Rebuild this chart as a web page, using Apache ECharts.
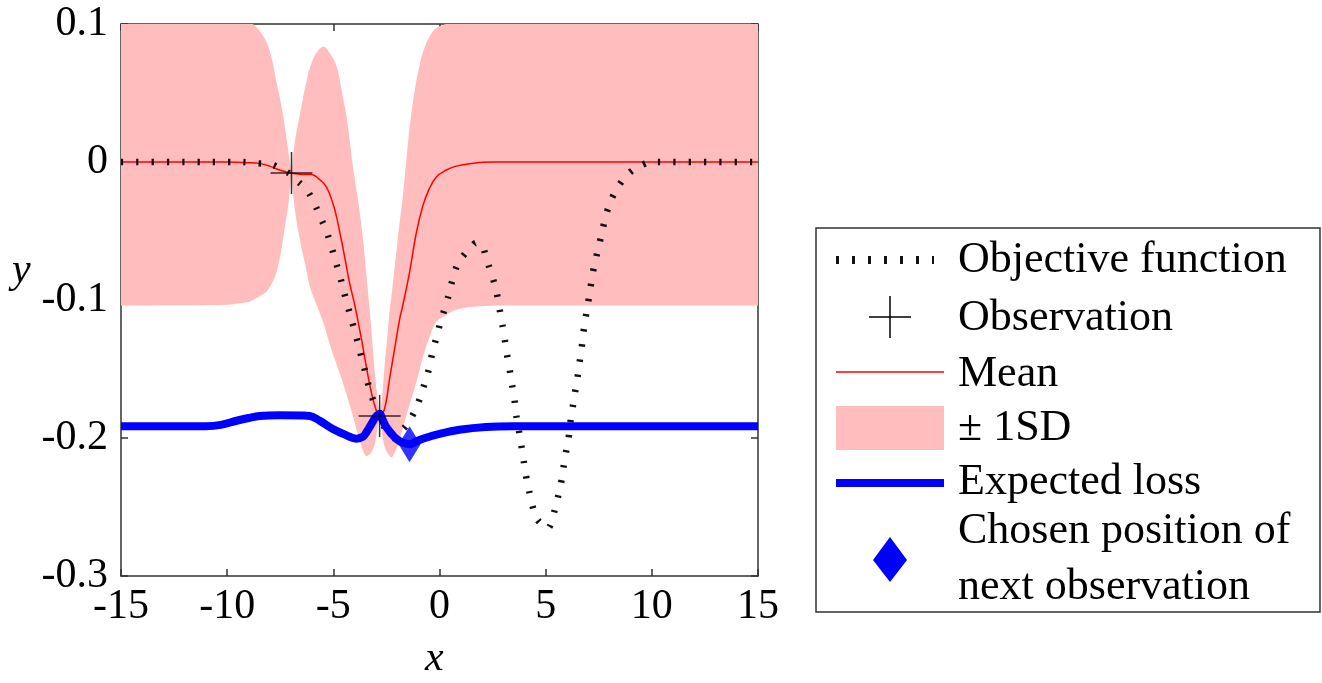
<!DOCTYPE html>
<html><head><meta charset="utf-8">
<script src="https://cdn.jsdelivr.net/npm/echarts@6/dist/echarts.min.js"></script>
<style>html,body{margin:0;padding:0;background:#fff}#c{width:1322px;height:683px}</style>
</head><body><div id="c"></div>
<script>
// ---------- data ----------
const xTickLabels = ['-15', '-10', '-5', '0', '5', '10', '15'];
const yTickLabels = ['-0.3', '-0.2', '-0.1', '0', '0.1'];

const objX = [-15, -12, -9.5, -9, -8.5, -8, -7.37, -7, -6.82, -6.27, -5.93, -5.61, -5.33, -5.1, -4.89, -4.7, -4.33, -3.95, -3.58, -3.25, -2.96, -2.82, -2.5, -2.2, -1.96, -1.57, -1.18, -0.94, -0.71, -0.5, -0.35, -0.16, 0.03, 0.23, 0.44, 0.62, 0.86, 1.22, 1.5, 1.75, 2.0, 2.19, 2.4, 2.62, 2.77, 2.9, 3.02, 3.16, 3.29, 3.4, 3.52, 3.6, 3.72, 3.84, 3.95, 4.07, 4.2, 4.36, 4.57, 4.85, 5.09, 5.25, 5.36, 5.56, 5.72, 5.83, 5.95, 6.08, 6.16, 6.27, 6.38, 6.5, 6.6, 6.7, 6.79, 6.9, 7.02, 7.13, 7.25, 7.41, 7.58, 7.74, 7.91, 8.19, 8.54, 9.01, 9.64, 10, 15];
const objY = [0, 0, 0, -0.0003, -0.001, -0.0015, -0.006, -0.009, -0.012, -0.020, -0.029, -0.040, -0.050, -0.061, -0.072, -0.082, -0.104, -0.125, -0.147, -0.167, -0.179, -0.184, -0.195, -0.200, -0.197, -0.191, -0.181, -0.172, -0.161, -0.150, -0.139, -0.128, -0.117, -0.107, -0.096, -0.085, -0.074, -0.066, -0.0615, -0.0585, -0.0605, -0.069, -0.079, -0.090, -0.101, -0.113, -0.123, -0.138, -0.149, -0.160, -0.171, -0.182, -0.193, -0.204, -0.215, -0.227, -0.237, -0.248, -0.258, -0.263, -0.2655, -0.262, -0.256, -0.244, -0.233, -0.222, -0.211, -0.200, -0.189, -0.178, -0.167, -0.156, -0.145, -0.134, -0.122, -0.111, -0.100, -0.089, -0.078, -0.067, -0.056, -0.045, -0.035, -0.024, -0.015, -0.007, -0.0015, 0, 0];

const obsX = [-6.97, -2.82];
const obsY = [-0.008, -0.184];

const meanX = [-15, -10, -9, -8.5, -8, -7.5, -7, -6.5, -6.03, -5.7, -5.33, -5.02, -4.86, -4.55, -4.23, -4.0, -3.68, -3.45, -3.21, -3.0, -2.82, -2.59, -2.35, -2.12, -1.88, -1.73, -1.41, -1.1, -0.79, -0.5, -0.16, 0.3, 0.78, 1.5, 2.5, 15];
const meanY = [0, 0, -0.0005, -0.001, -0.003, -0.006, -0.008, -0.009, -0.009, -0.012, -0.018, -0.030, -0.039, -0.062, -0.088, -0.103, -0.128, -0.148, -0.167, -0.179, -0.184, -0.179, -0.157, -0.136, -0.114, -0.104, -0.080, -0.052, -0.032, -0.020, -0.011, -0.006, -0.003, -0.001, 0, 0];

const bandX = [-15, -10, -9.5, -9, -8.8, -8.5, -8.15, -7.9, -7.68, -7.5, -7.37, -7.25, -7.13, -7.05, -6.97, -6.9, -6.8, -6.58, -6.3, -6.11, -5.8, -5.46, -5.09, -4.86, -4.55, -4.39, -4.08, -3.76, -3.61, -3.45, -3.29, -3.06, -2.95, -2.82, -2.7, -2.59, -2.45, -2.35, -2.27, -2.04, -1.88, -1.73, -1.57, -1.41, -1.1, -0.79, -0.5, -0.16, 0.3, 0.8, 1.5, 3, 15];
const bandLow = [-0.104, -0.1035, -0.1025, -0.1015, -0.1, -0.0975, -0.094, -0.088, -0.080, -0.068, -0.056, -0.044, -0.032, -0.020, -0.008, -0.022, -0.036, -0.056, -0.076, -0.090, -0.103, -0.117, -0.136, -0.146, -0.160, -0.168, -0.184, -0.202, -0.209, -0.213, -0.212, -0.205, -0.196, -0.184, -0.197, -0.206, -0.211, -0.213, -0.214, -0.208, -0.201, -0.193, -0.184, -0.176, -0.160, -0.142, -0.128, -0.116, -0.111, -0.107, -0.105, -0.104, -0.104];
const bandHigh = [0.104, 0.1035, 0.1025, 0.1015, 0.1, 0.0955, 0.087, 0.075, 0.058, 0.045, 0.034, 0.022, 0.009, 0.0, -0.008, 0.004, 0.016, 0.034, 0.056, 0.068, 0.079, 0.0836, 0.077, 0.070, 0.047, 0.034, -0.003, -0.036, -0.055, -0.081, -0.107, -0.150, -0.168, -0.184, -0.170, -0.148, -0.125, -0.108, -0.098, -0.066, -0.044, -0.025, 0.0, 0.025, 0.058, 0.079, 0.090, 0.097, 0.100, 0.103, 0.104, 0.104, 0.104];

const lossX = [-15, -11, -10.3, -9.56, -9, -8.47, -7.53, -6.5, -6.11, -5.64, -5.02, -4.39, -3.92, -3.6, -3.45, -3.25, -3.06, -2.95, -2.82, -2.7, -2.51, -2.2, -2.04, -1.8, -1.41, -1.1, -0.79, 0, 0.94, 2.19, 3.5, 15];
const lossY = [-0.1915, -0.1915, -0.1905, -0.1875, -0.1855, -0.184, -0.1835, -0.1837, -0.184, -0.1875, -0.1935, -0.198, -0.2005, -0.199, -0.196, -0.191, -0.186, -0.1838, -0.1825, -0.186, -0.192, -0.198, -0.2005, -0.203, -0.2045, -0.2025, -0.2005, -0.197, -0.194, -0.192, -0.1915, -0.1915];

const nextX = [-1.41];
const nextY = [-0.2045];

const legendLabels = ['Objective function', 'Observation', 'Mean', '± 1SD', 'Expected loss', 'Chosen position of', 'next observation'];

// ---------- chart ----------
const pair = (xs, ys) => xs.map((x, i) => [x, ys[i]]);
const SERIF = '"Liberation Serif", "DejaVu Serif", serif';
const PINK = '#ffbdbd';
const chart = echarts.init(document.getElementById('c'), null, { renderer: 'canvas' });

const axisCommon = {
  type: 'value',
  axisLine: { show: true, onZero: false, lineStyle: { color: '#333', width: 1.5 } },
  axisTick: { show: true, inside: true, length: 7, lineStyle: { color: '#333', width: 1.5 } },
  splitLine: { show: false }
};

// Monotone cubic (PCHIP) through pixel points; pinch points keep one-sided slopes (sharp X crossing).
function hermiteEdge(pts, pinch) {
  const n = pts.length, h = [], d = [];
  for (let k = 0; k < n - 1; k++) {
    h[k] = pts[k + 1][0] - pts[k][0];
    d[k] = (pts[k + 1][1] - pts[k][1]) / h[k];
  }
  const mIn = [], mOut = [];
  for (let k = 0; k < n; k++) {
    if (k === 0) { mIn[k] = mOut[k] = d[0]; continue; }
    if (k === n - 1) { mIn[k] = mOut[k] = d[n - 2]; continue; }
    if (pinch[k]) { mIn[k] = d[k - 1]; mOut[k] = d[k]; continue; }
    let m = 0;
    if (d[k - 1] * d[k] > 0) {
      const w1 = 2 * h[k] + h[k - 1], w2 = h[k] + 2 * h[k - 1];
      m = (w1 + w2) / (w1 / d[k - 1] + w2 / d[k]);
    }
    mIn[k] = mOut[k] = m;
  }
  const out = [pts[0]];
  const STEPS = 12;
  for (let k = 0; k < n - 1; k++) {
    const x0 = pts[k][0], y0 = pts[k][1], y1 = pts[k + 1][1], hk = h[k];
    const m0 = mOut[k], m1 = mIn[k + 1];
    for (let s = 1; s <= STEPS; s++) {
      const t = s / STEPS, t2 = t * t, t3 = t2 * t;
      const y = (2 * t3 - 3 * t2 + 1) * y0 + (t3 - 2 * t2 + t) * hk * m0 + (-2 * t3 + 3 * t2) * y1 + (t3 - t2) * hk * m1;
      out.push([x0 + t * hk, y]);
    }
  }
  return out;
}

function renderBand(params, api) {
  if (params.dataIndex !== 0) return null;
  const pinch = bandX.map((x, i) => bandHigh[i] === bandLow[i]);
  const top = hermiteEdge(bandX.map((x, i) => api.coord([x, bandHigh[i]])), pinch);
  const bottom = hermiteEdge(bandX.map((x, i) => api.coord([x, bandLow[i]])), pinch).reverse();
  return {
    type: 'polygon',
    shape: { points: top.concat(bottom) },
    style: { fill: PINK, stroke: null }
  };
}

const option = {
  animation: false,
  backgroundColor: '#fff',
  grid: { left: 121, top: 24, width: 637, height: 552, containLabel: false },
  xAxis: [
    Object.assign({}, axisCommon, {
      position: 'bottom', min: -15, max: 15, interval: 5,
      axisLabel: { show: true, margin: 10, fontFamily: SERIF, fontSize: 42, color: '#000',
        formatter: v => xTickLabels[Math.round((v + 15) / 5)] }
    }),
    Object.assign({}, axisCommon, {
      position: 'top', min: -15, max: 15, interval: 5, axisLabel: { show: false }
    })
  ],
  yAxis: [
    Object.assign({}, axisCommon, {
      position: 'left', min: -0.3, max: 0.1, interval: 0.1,
      axisLabel: { show: true, margin: 13, fontFamily: SERIF, fontSize: 42, color: '#000',
        formatter: v => yTickLabels[Math.round((v + 0.3) / 0.1)] }
    }),
    Object.assign({}, axisCommon, {
      position: 'right', min: -0.3, max: 0.1, interval: 0.1, axisLabel: { show: false }
    })
  ],
  series: [
    {
      name: '± 1SD', type: 'custom', renderItem: renderBand, clip: true, silent: true, z: 1,
      data: bandX.map((x, i) => [x, bandLow[i], bandHigh[i]]),
      encode: { x: 0, y: [1, 2] }
    },
    {
      name: 'Mean', type: 'line', data: pair(meanX, meanY), symbol: 'none', smooth: 0.4,
      lineStyle: { color: '#ff0000', width: 1.5 }, z: 3
    },
    {
      name: 'Objective function', type: 'line', data: pair(objX, objY), symbol: 'none', smooth: 0.4,
      lineStyle: { color: '#111', width: 6.5, type: [2.3, 13], cap: 'butt' }, z: 4
    },
    {
      name: 'Expected loss', type: 'line', data: pair(lossX, lossY), symbol: 'none', smooth: 0.4,
      lineStyle: { color: '#0000ff', width: 8 }, z: 5
    },
    {
      name: 'Observation', type: 'scatter', data: pair(obsX, obsY),
      symbol: 'path://M-1,0L1,0M0,-1L0,1', symbolSize: 42,
      itemStyle: { color: 'rgba(0,0,0,0)', borderColor: '#000', borderWidth: 1.5 }, z: 6
    },
    {
      name: 'Chosen position of next observation', type: 'scatter', data: pair(nextX, nextY),
      symbol: 'diamond', symbolSize: [22, 36], itemStyle: { color: '#0000ff' }, z: 7
    }
  ],
  graphic: [
    { type: 'text', left: 12, top: 250, style: { text: 'y', font: 'italic 42px ' + SERIF, fill: '#000' } },
    { type: 'text', left: 425, top: 638, style: { text: 'x', font: 'italic 42px ' + SERIF, fill: '#000' } },
    { type: 'rect', shape: { x: 816, y: 228, width: 504, height: 384 }, style: { fill: 'none', stroke: '#333', lineWidth: 1.5 }, z: 100 },
    { type: 'line', shape: { x1: 836, y1: 260, x2: 934, y2: 260 }, style: { stroke: '#111', lineWidth: 8, lineDash: [3, 13] }, z: 100 },
    { type: 'line', shape: { x1: 869, y1: 317, x2: 911, y2: 317 }, style: { stroke: '#000', lineWidth: 1.5 }, z: 100 },
    { type: 'line', shape: { x1: 890, y1: 296, x2: 890, y2: 338 }, style: { stroke: '#000', lineWidth: 1.5 }, z: 100 },
    { type: 'line', shape: { x1: 836, y1: 372, x2: 944, y2: 372 }, style: { stroke: '#ff0000', lineWidth: 1.5 }, z: 100 },
    { type: 'rect', shape: { x: 836, y: 406, width: 108, height: 44 }, style: { fill: PINK }, z: 100 },
    { type: 'line', shape: { x1: 836, y1: 483, x2: 944, y2: 483 }, style: { stroke: '#0000ff', lineWidth: 8 }, z: 100 },
    { type: 'polygon', shape: { points: [[890, 537], [907, 560], [890, 582], [873, 560]] }, style: { fill: '#0000ff' }, z: 100 }
  ].concat(legendLabels.map((t, i) => ({
    type: 'text', z: 100,
    style: { text: t, x: 958, y: [260, 318, 374, 428, 482, 531, 587][i], verticalAlign: 'middle', align: 'left',
      font: '44px ' + SERIF, fill: '#000' }
  })))
};
chart.setOption(option);
</script>
</body></html>
